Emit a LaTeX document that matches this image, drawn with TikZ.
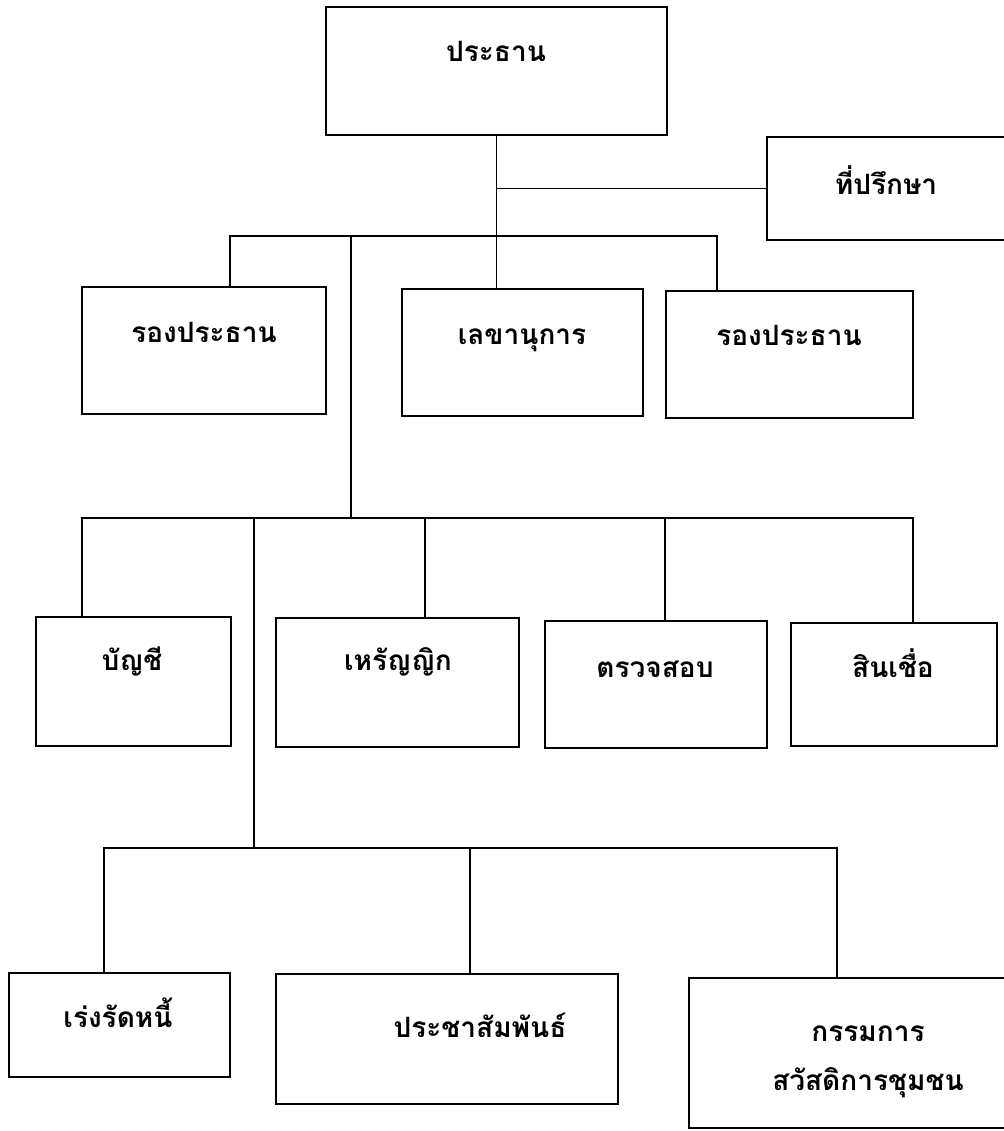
\documentclass[tikz,border=0pt]{standalone}
\usepackage{fontspec}
\newfontfamily\thaifont[Script=Thai]{Loma}
\begin{document}
\begin{tikzpicture}[x=1pt,y=-1pt,
  box/.style={draw, line width=1.8pt, inner sep=0pt, rectangle},
  lbl/.style={font=\thaifont\bfseries\fontsize{28}{32}\selectfont, inner sep=0pt, anchor=base},
  conn/.style={line width=1.8pt}]
\useasboundingbox (0,0) rectangle (1003,1131);
\fill[white] (0,0) rectangle (1003,1131);
% boxes
\node[box, minimum width=341pt, minimum height=128pt] (pres) at (496.5,71) {};
\node[box, minimum width=243pt, minimum height=103pt] (adv) at (888.5,188.5) {};
\node[box, minimum width=244pt, minimum height=127pt] (vpL) at (204,350.5) {};
\node[box, minimum width=241pt, minimum height=127pt] (sec) at (522.5,352.5) {};
\node[box, minimum width=247pt, minimum height=127pt] (vpR) at (789.5,354.5) {};
\node[box, minimum width=195pt, minimum height=129pt] (acc) at (133.5,681.5) {};
\node[box, minimum width=243pt, minimum height=129pt] (tre) at (397.5,682.5) {};
\node[box, minimum width=222pt, minimum height=127pt] (aud) at (656,684.5) {};
\node[box, minimum width=206pt, minimum height=123pt] (cre) at (894,684.5) {};
\node[box, minimum width=221pt, minimum height=104pt] (debt) at (119.5,1025) {};
\node[box, minimum width=342pt, minimum height=130pt] (pr) at (447,1039) {};
\node[box, minimum width=321pt, minimum height=150pt] (wel) at (849.5,1053) {};
% labels
\node[lbl] (t-pres) at (496,62) {ประธาน};
\node[lbl] (t-adv) at (886,195) {ที่ปรึกษา};
\node[lbl] (t-vpL) at (204,342) {รองประธาน};
\node[lbl] (t-sec) at (522,344) {เลขานุการ};
\node[lbl] (t-vpR) at (789,345) {รองประธาน};
\node[lbl] (t-acc) at (132,670) {บัญชี};
\node[lbl] (t-tre) at (398,670) {เหรัญญิก};
\node[lbl] (t-aud) at (655,677) {ตรวจสอบ};
\node[lbl] (t-cre) at (893,677) {สินเชื่อ};
\node[lbl] (t-debt) at (118,1027) {เร่งรัดหนี้};
\node[lbl] (t-pr) at (480,1037) {ประชาสัมพันธ์};
\node[lbl] (t-wel1) at (868,1041) {กรรมการ};
\node[lbl] (t-wel2) at (868,1090) {สวัสดิการชุมชน};
% bus coordinates
\coordinate (b1L) at (230,236);
\coordinate (b1R) at (717,236);
\coordinate (b1M) at (351,236);
\coordinate (b2M) at (351,518);
\coordinate (b2L) at (82,518);
\coordinate (b2R) at (913,518);
\coordinate (b2a) at (254,518);
\coordinate (b2b) at (425,518);
\coordinate (b2c) at (665,518);
\coordinate (b3M) at (254,848);
\coordinate (b3L) at (104,848);
\coordinate (b3R) at (837,848);
\coordinate (b3b) at (470,848);
% connectors
\draw[conn] (pres.south) -- (pres.south |- sec.north);
\draw[conn] (pres.south |- adv.west) -- (adv.west);
\draw[conn] (b1L |- vpL.north) -- (b1L) -- (b1R) -- (b1R |- vpR.north);
\draw[conn] (b1M) -- (b2M);
\draw[conn] (b2L |- acc.north) -- (b2L) -- (b2R) -- (b2R |- cre.north);
\draw[conn] (b2b) -- (b2b |- tre.north);
\draw[conn] (b2c) -- (b2c |- aud.north);
\draw[conn] (b2a) -- (b3M);
\draw[conn] (b3L |- debt.north) -- (b3L) -- (b3R) -- (b3R |- wel.north);
\draw[conn] (b3b) -- (b3b |- pr.north);
\end{tikzpicture}
\end{document}
